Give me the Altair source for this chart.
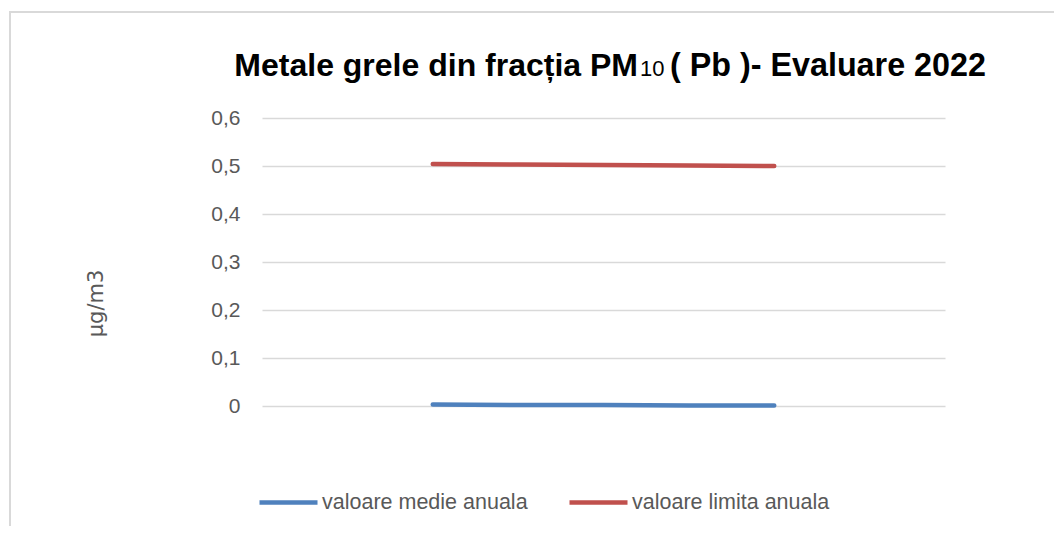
import altair as alt
import pandas as pd

# Category positions along the (hidden) x axis
categorii = ["1", "2", "3", "4", "5", "6", "7", "8", "9"]
valoare_medie = [None, None, 0.003, 0.002, 0.002, 0.001, 0.001, None, None]
valoare_limita = [None, None, 0.504, 0.503, 0.502, 0.501, 0.500, None, None]
serii = ["valoare medie anuala", "valoare limita anuala"]
culori = ["#4F81BD", "#C0504D"]
y_ticks = [0, 0.1, 0.2, 0.3, 0.4, 0.5, 0.6]

rows = []
for c, m, l in zip(categorii, valoare_medie, valoare_limita):
    rows.append({"cat": c, "serie": serii[0], "val": m})
    rows.append({"cat": c, "serie": serii[1], "val": l})
df = pd.DataFrame(rows)

W, H = 683, 288
PAD_L, PAD_T = 254, 110
FONT = "Liberation Sans"

lines = alt.Chart(df).mark_line(strokeWidth=4.5, strokeCap="round").encode(
    x=alt.X("cat:O", scale=alt.Scale(type="point", domain=categorii, padding=0), axis=None),
    y=alt.Y(
        "val:Q",
        scale=alt.Scale(domain=[0, 0.6]),
        axis=alt.Axis(
            values=y_ticks,
            labelExpr="datum.value == 0 ? '0' : replace(format(datum.value, '.1f'), '.', ',')",
            domain=False,
            ticks=False,
            labelPadding=22,
            labelFontSize=21,
            labelColor="#595959",
            labelFont=FONT,
            gridColor="#D9D9D9",
            gridWidth=1.5,
            title="µg/m3",
            titleFont="DejaVu Sans",
            titleFontSize=21,
            titleFontWeight="normal",
            titleColor="#595959",
            titleAngle=270,
            titleX=-166,
            titleY=185,
            titleAlign="center",
            titleBaseline="middle",
        ),
    ),
    color=alt.Color(
        "serie:N",
        scale=alt.Scale(domain=serii, range=culori),
        legend=alt.Legend(
            title=None,
            orient="none",
            direction="horizontal",
            legendX=-5,
            legendY=353,
            symbolType="stroke",
            symbolSize=3364,
            symbolStrokeWidth=4.5,
            labelFontSize=21.5,
            labelColor="#595959",
            labelFont=FONT,
            labelOffset=2,
            labelLimit=400,
            columnPadding=32,
        ),
    ),
    detail="serie:N",
)

dummy = pd.DataFrame({"k": [0]})
border_top = alt.Chart(dummy).mark_rule(color="#D9D9D9", strokeWidth=2).encode(
    x=alt.value(-252), x2=alt.value(800), y=alt.value(-106)
)
border_left = alt.Chart(dummy).mark_rule(color="#D9D9D9", strokeWidth=2).encode(
    x=alt.value(-252), y=alt.value(-107), y2=alt.value(430)
)

t1 = alt.Chart(dummy).mark_text(
    text="Metale grele din fracția PM", align="right", baseline="alphabetic",
    fontSize=32, fontWeight="bold", font=FONT, color="#000000"
).encode(x=alt.value(376), y=alt.value(-42))
t2 = alt.Chart(dummy).mark_text(
    text="10", align="left", baseline="alphabetic",
    fontSize=22, fontWeight="normal", font=FONT, color="#000000"
).encode(x=alt.value(378), y=alt.value(-42))
t3 = alt.Chart(dummy).mark_text(
    text="( Pb )- Evaluare 2022", align="left", baseline="alphabetic",
    fontSize=32.3, fontWeight="bold", font=FONT, color="#000000"
).encode(x=alt.value(408), y=alt.value(-42))

chart = alt.layer(border_top, border_left, lines, t1, t2, t3).properties(
    width=W,
    height=H,
    autosize=alt.AutoSizeParams(type="none"),
    padding={"left": PAD_L, "top": PAD_T, "right": 1046 - PAD_L - W, "bottom": 518 - PAD_T - H},
    view=alt.ViewBackground(stroke="transparent"),
).configure_view(stroke="transparent").configure(background="white")

chart.save("out.html", embed_options={"renderer": "svg", "actions": False})
